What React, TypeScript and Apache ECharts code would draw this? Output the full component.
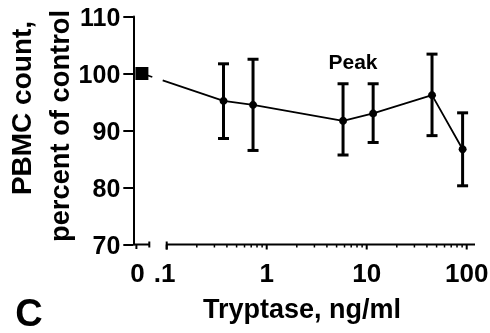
import React, { useEffect, useRef } from 'react';
import * as echarts from 'echarts';

// ---- data ----
const DOSES = [0.37, 0.73, 5.8, 11.6, 45, 91]; // ng/ml
const MEANS = [95.2, 94.5, 91.7, 93.0, 96.2, 86.7];
const UPPER = [101.7, 102.5, 98.2, 98.2, 103.4, 93.1];
const LOWER = [88.6, 86.5, 85.7, 87.9, 89.1, 80.3];
const CONTROL_MEAN = 100;
const X_TICKS = [0.1, 1, 10, 100];
const X_TICK_LABELS = ['.1', '1', '10', '100'];
const ZERO_LABEL = '0';
const Y_MIN = 70;
const Y_MAX = 110;
const Y_STEP = 10;

// ---- layout of the broken log axis (in log10 units) ----
const X_MIN_LOG = -1.334;
const X_MAX_LOG = 2.083;
const ZERO_POS = -1.303;
const CONTROL_POS = -1.248;
const BREAK_L = -1.174;
const BREAK_R = -1.0;

const FONT = "'Liberation Sans', Arial, Helvetica, sans-serif";
const BLACK = '#000';

export default function App() {
  const ref = useRef<HTMLDivElement>(null);
  useEffect(() => {
    const chart = echarts.init(ref.current!, null, { renderer: 'svg' });
    const lx = (d: number) => Math.log10(d);
    const pts = DOSES.map((d, i) => [lx(d), MEANS[i]]);
    const errData = DOSES.map((d, i) => [lx(d), LOWER[i], UPPER[i]]);

    const minorTicks: number[] = [];
    for (let k = 0; k < X_TICKS.length - 1; k++) {
      for (let m = 2; m <= 9; m++) minorTicks.push(X_TICKS[k] * m);
    }

    const seg = (x1: number, y1: number, x2: number, y2: number, w: number) => ({
      type: 'line',
      shape: { x1, y1, x2, y2 },
      style: { stroke: BLACK, lineWidth: w },
    });

    chart.setOption({
      animation: false,
      grid: { left: 133.3, top: 16.5, width: 341.7, height: 228, containLabel: false },
      xAxis: { type: 'value', min: X_MIN_LOG, max: X_MAX_LOG, show: false },
      yAxis: {
        type: 'value',
        min: Y_MIN,
        max: Y_MAX,
        interval: Y_STEP,
        axisLine: { show: true, onZero: false, lineStyle: { color: BLACK, width: 2 } },
        axisTick: { show: true, length: 10, lineStyle: { color: BLACK, width: 2 } },
        axisLabel: { color: BLACK, fontSize: 25, fontWeight: 'bold', fontFamily: FONT, margin: 13 },
        splitLine: { show: false },
      },
      series: [
        {
          type: 'custom',
          name: 'xaxis',
          clip: false,
          silent: true,
          data: [[0, Y_MIN]],
          renderItem: (params: any, api: any) => {
            const px = (v: number) => api.coord([v, Y_MIN])[0];
            const y0 = api.coord([X_MIN_LOG, Y_MIN])[1];
            const children: any[] = [];
            // left stub
            children.push(seg(px(X_MIN_LOG), y0, px(BREAK_L), y0, 2));
            children.push(seg(px(ZERO_POS), y0, px(ZERO_POS), y0 + 4.5, 2));
            children.push(seg(px(BREAK_L), y0 - 3, px(BREAK_L), y0 + 3, 2));
            // main
            children.push(seg(px(BREAK_R), y0, px(X_MAX_LOG), y0, 2));
            children.push(seg(px(BREAK_R), y0 - 3, px(BREAK_R), y0 + 5, 2));
            X_TICKS.forEach((t) => {
              const x = px(lx(t));
              children.push(seg(x, y0, x, y0 + 5, 2));
            });
            minorTicks.forEach((t) => {
              const x = px(lx(t));
              children.push(seg(x, y0, x, y0 + 3, 1.5));
            });
            const labStyle = (text: string) => ({
              text,
              fill: BLACK,
              fontSize: 26,
              fontWeight: 'bold',
              fontFamily: FONT,
              align: 'center',
              verticalAlign: 'middle',
            });
            children.push({ type: 'text', x: px(ZERO_POS) + 1, y: y0 + 28, style: labStyle(ZERO_LABEL) });
            X_TICKS.forEach((t, i) => {
              children.push({ type: 'text', x: px(lx(t)) - (i === 0 ? 2 : 0), y: y0 + 28, style: labStyle(X_TICK_LABELS[i]) });
            });
            return { type: 'group', children };
          },
          z: 1,
        },
        {
          type: 'custom',
          name: 'link',
          clip: false,
          silent: true,
          data: [[CONTROL_POS, CONTROL_MEAN, lx(DOSES[0]), MEANS[0]]],
          encode: { x: 0, y: 1 },
          renderItem: (params: any, api: any) => {
            const a = api.coord([api.value(0), api.value(1)]);
            const b = api.coord([api.value(2), api.value(3)]);
            const gx1 = api.coord([BREAK_L, Y_MIN])[0] + 3;
            const gx2 = api.coord([BREAK_R, Y_MIN])[0] - 4;
            const yAt = (x: number) => a[1] + ((b[1] - a[1]) * (x - a[0])) / (b[0] - a[0]);
            return {
              type: 'group',
              children: [
                seg(a[0], a[1], gx1, yAt(gx1), 1.8),
                seg(gx2, yAt(gx2), b[0], b[1], 1.8),
              ],
            };
          },
          z: 3,
        },
        {
          type: 'custom',
          name: 'errors',
          clip: false,
          silent: true,
          data: errData,
          encode: { x: 0, y: [1, 2] },
          renderItem: (params: any, api: any) => {
            const lo = api.coord([api.value(0), api.value(1)]);
            const hi = api.coord([api.value(0), api.value(2)]);
            const hw = 5.5;
            return {
              type: 'group',
              children: [
                seg(lo[0], lo[1], hi[0], hi[1], 3),
                seg(lo[0] - hw, lo[1], lo[0] + hw, lo[1], 3),
                seg(hi[0] - hw, hi[1], hi[0] + hw, hi[1], 3),
              ],
            };
          },
          z: 4,
        },
        {
          type: 'line',
          name: 'Tryptase',
          data: pts,
          symbol: 'circle',
          symbolSize: 8,
          itemStyle: { color: BLACK },
          lineStyle: { color: BLACK, width: 1.8 },
          z: 5,
        },
        {
          type: 'scatter',
          name: 'Control',
          data: [[CONTROL_POS, CONTROL_MEAN]],
          symbol: 'rect',
          symbolSize: 13,
          itemStyle: { color: BLACK, opacity: 1 },
          z: 6,
        },
      ],
      graphic: [
        {
          type: 'text',
          x: 21,
          y: 108,
          rotation: Math.PI / 2,
          style: { text: 'PBMC count,', fill: BLACK, fontSize: 28, fontWeight: 'bold', fontFamily: FONT, align: 'center', verticalAlign: 'middle' },
        },
        {
          type: 'text',
          x: 59,
          y: 126,
          rotation: Math.PI / 2,
          style: { text: 'percent of control', fill: BLACK, fontSize: 27.3, fontWeight: 'bold', fontFamily: FONT, align: 'center', verticalAlign: 'middle' },
        },
        {
          type: 'text',
          x: 302,
          y: 309,
          style: { text: 'Tryptase, ng/ml', fill: BLACK, fontSize: 27, fontWeight: 'bold', fontFamily: FONT, align: 'center', verticalAlign: 'middle' },
        },
        {
          type: 'text',
          x: 353,
          y: 61,
          style: { text: 'Peak', fill: BLACK, fontSize: 21, fontWeight: 'bold', fontFamily: FONT, align: 'center', verticalAlign: 'middle' },
        },
        {
          type: 'text',
          x: 29,
          y: 313,
          style: { text: 'C', fill: BLACK, fontSize: 38, fontWeight: 'bold', fontFamily: FONT, align: 'center', verticalAlign: 'middle' },
        },
      ],
    });
    return () => chart.dispose();
  }, []);
  return <div ref={ref} style={{ position: 'fixed', left: 0, top: 0, width: 490, height: 333 }} />;
}
